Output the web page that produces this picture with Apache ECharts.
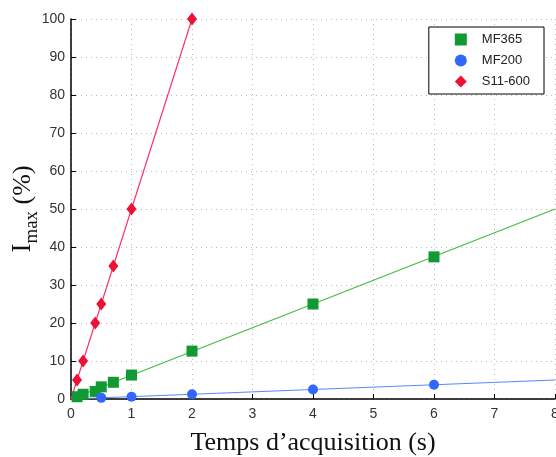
<!DOCTYPE html>
<html><head><meta charset="utf-8">
<script src="https://cdn.jsdelivr.net/npm/echarts@6/dist/echarts.min.js"></script>
<style>html,body{margin:0;padding:0;background:#fff}#c{width:556px;height:457px}</style>
</head><body><div id="c"></div>
<script>
const xTicks = [0,1,2,3,4,5,6,7,8];
const yTicks = [0,10,20,30,40,50,60,70,80,90,100];
const mf365X = [0.1,0.2,0.4,0.5,0.7,1,2,4,6];
const mf365Y = [0.6,1.25,2.0,3.2,4.4,6.3,12.6,25,37.4];
const mf365FitX = [0,8];
const mf365FitY = [0,50];
const mf200X = [0.5,1,2,4,6];
const mf200Y = [0.3,0.6,1.25,2.5,3.75];
const mf200FitX = [0,8];
const mf200FitY = [0,5];
const s11X = [0.1,0.2,0.4,0.5,0.7,1,2];
const s11Y = [5,10,20,25,35,50,100];
const s11FitX = [0,2];
const s11FitY = [0,100];

const zip = (a,b)=>a.map((v,i)=>[v,b[i]]);
const chart = echarts.init(document.getElementById('c'));
const serif = "'Liberation Serif','DejaVu Serif',serif";
const sans = "'Liberation Sans',Arial,sans-serif";
chart.setOption({
  animation:false,
  grid:{left:71,top:19,right:1,bottom:58,containLabel:false,outerBoundsMode:'none'},
  legend:{
    orient:'vertical', right:12, top:27,
    backgroundColor:'#fff', borderColor:'#000', borderWidth:1,
    padding:[6,14,6,26], itemGap:8, itemWidth:12, itemHeight:12,
    textStyle:{fontFamily:sans,fontSize:13,color:'#222',padding:[0,0,0,10]},
    data:[{name:'MF365',icon:'rect'},{name:'MF200',icon:'circle'},{name:'S11-600',icon:'diamond'}]
  },
  xAxis:{
    type:'value', min:0, max:8, interval:1,
    name:'Temps d\u2019acquisition (s)', nameLocation:'middle', nameGap:31, nameMoveOverlap:false,
    nameTextStyle:{fontFamily:serif,fontSize:26,color:'#111'},
    axisLine:{lineStyle:{color:'#000',width:1.5}},
    axisTick:{inside:true,length:5,lineStyle:{color:'#000'}},
    axisLabel:{fontFamily:sans,fontSize:14,color:'#333',margin:8},
    splitLine:{show:true,lineStyle:{color:'#bbb',type:[1,4]}}
  },
  yAxis:{
    type:'value', min:0, max:100, interval:10,
    name:'{a|I}{b|max}{c| (%)}', nameLocation:'middle', nameGap:35, nameRotate:90, nameMoveOverlap:false,
    nameTextStyle:{fontFamily:serif,fontSize:26,color:'#111',
      rich:{
        a:{fontFamily:serif,fontSize:27,color:'#111',verticalAlign:'bottom'},
        b:{fontFamily:serif,fontSize:19,color:'#111',verticalAlign:'bottom',padding:[0,0,-6,0]},
        c:{fontFamily:serif,fontSize:26,color:'#111',verticalAlign:'bottom'}
      }},
    axisLine:{show:true,lineStyle:{color:'#000',width:1.5}},
    axisTick:{show:true,inside:true,length:5,lineStyle:{color:'#000'}},
    axisLabel:{fontFamily:sans,fontSize:14,color:'#333',margin:6},
    splitLine:{show:true,lineStyle:{color:'#bbb',type:[1,4]}}
  },
  series:[
    {type:'line',data:zip(mf365FitX,mf365FitY),showSymbol:false,lineStyle:{color:'#44bb44',width:1.2},z:2,silent:true},
    {type:'line',data:zip(mf200FitX,mf200FitY),showSymbol:false,lineStyle:{color:'#5588ff',width:1.2},z:2,silent:true},
    {type:'line',data:zip(s11FitX,s11FitY),showSymbol:false,lineStyle:{color:'#ff3366',width:1.2},z:2,silent:true},
    {name:'MF365',type:'scatter',data:zip(mf365X,mf365Y),symbol:'rect',symbolSize:11,itemStyle:{color:'#119933',opacity:1},z:3},
    {name:'MF200',type:'scatter',data:zip(mf200X,mf200Y),symbol:'circle',symbolSize:10,itemStyle:{color:'#3366ff',opacity:1},z:3},
    {name:'S11-600',type:'scatter',data:zip(s11X,s11Y),symbol:'diamond',symbolSize:[10,13],itemStyle:{color:'#ee1133',opacity:1},z:4}
  ]
});
</script></body></html>
